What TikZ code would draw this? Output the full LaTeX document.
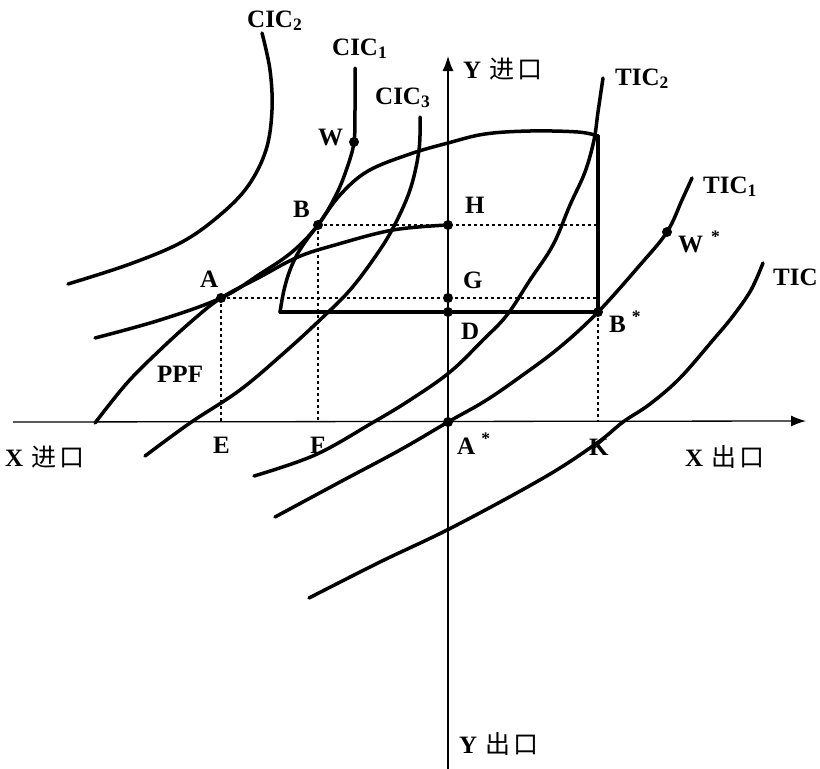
\documentclass[tikz,border=0pt]{standalone}
\usepackage{fontspec}
\setmainfont{Liberation Serif}
\newfontfamily\cjk{Noto Sans CJK SC}
\usetikzlibrary{arrows.meta}
\begin{document}
\begin{tikzpicture}[x=1pt,y=-1pt,
  curve/.style={line width=3.5pt,line cap=round,line join=round},
  axis/.style={line width=1.3pt,-{Latex[length=15pt,width=11pt]}},
  guide/.style={line width=1.1pt,dash pattern=on 3pt off 3pt},
  lbl/.style={anchor=base west,inner sep=0pt,font=\fontsize{25}{30}\selectfont\bfseries},
  cjklbl/.style={anchor=base west,inner sep=0pt,font=\fontsize{25}{30}\selectfont\bfseries},
  dotmark/.style={circle,fill,inner sep=0pt,minimum size=10pt}]
\useasboundingbox (0,0) rectangle (820,769);

% key points
\coordinate (A)  at (221,298);
\coordinate (B)  at (318,225);
\coordinate (W)  at (354,142);
\coordinate (H)  at (448,225);
\coordinate (G)  at (448,298);
\coordinate (D)  at (448,312);
\coordinate (As) at (448,422);
\coordinate (Bs) at (598,312);
\coordinate (Ws) at (667,232);
\coordinate (Bc) at (280,312);
\coordinate (Tp) at (598,136);
\coordinate (E)  at (221,422);
\coordinate (F)  at (318,422);
\coordinate (K)  at (598,422);
\coordinate (Xl) at (13,422);
\coordinate (Xr) at (806,421);
\coordinate (Yb) at (448,769);
\coordinate (Yt) at (448,56);

% axes
\draw[axis] (Xl) -- (Xr);
\draw[axis] (Yb) -- (Yt);

% guides
\draw[guide] (B) -- (B -| Bs);
\draw[guide] (B) -- (F);
\draw[guide] (A) -- (A -| Bs);
\draw[guide] (A) -- (E);
\draw[guide] (Bs) -- (K);

% community indifference curves
\draw[curve] plot[smooth,tension=0.6] coordinates {(262,33) (270,70) (272,110) (266,150) (248,186) (220,215) (182,242) (130,264) (68,284)};
\draw[curve] plot[smooth,tension=0.6] coordinates {(355,68) (355,110) (W) (347,168) (336,195) (B) (292,252) (260,274) (A) (160,320) (95,338)};
\draw[curve] plot[smooth,tension=0.6] coordinates {(420,117) (419,150) (410,190) (393,228) (375,257) (350,290) (322,318) (285,352) (240,390) (190,423) (145,456)};

% production possibility frontier
\draw[curve] plot[smooth,tension=0.6] coordinates {(95,423) (127,383) (160,350) (193,320) (A) (260,277) (298,257) (335,245) (393,230) (H)};

% shifted production block
\draw[curve] plot[smooth,tension=0.6] coordinates {(Bc) (284,290) (290,270) (298,253) (308,238) (B) (340,195) (368,171) (410,154) (448,143) (485,134) (530,131) (578,132) (Tp)};
\draw[curve] (Tp) -- (Bs) -- (Bc);

% trade indifference curves
\draw[curve] plot[smooth,tension=0.6] coordinates {(603,78) (598,112) (594,140) (585,172) (570,205) (553,245) (530,280) (507,315) (483,340) (450,372) (410,400) (372,423) (315,455) (254,476)};
\draw[curve] plot[smooth,tension=0.6] coordinates {(692,178) (682,200) (Ws) (640,265) (Bs) (560,347) (520,377) (485,401) (As) (400,450) (340,482) (275,517)};
\draw[curve] plot[smooth,tension=0.6] coordinates {(763,263) (751,290) (733,316) (713,340) (680,378) (650,404) (623,422) (597,443) (545,477) (453,527) (380,562) (309,598)};

% dots
\foreach \p in {A,B,W,H,G,D,As,Bs,Ws}
  \node[dotmark] (dot\p) at (\p) {};

% labels
\node[lbl] (lCIC2) at (247,27) {CIC\textsubscript{2}};
\node[lbl] (lCIC1) at (332,55) {CIC\textsubscript{1}};
\node[lbl] (lCIC3) at (375,104) {CIC\textsubscript{3}};
\node[lbl] (lTIC2) at (615,85) {TIC\textsubscript{2}};
\node[lbl] (lTIC1) at (703,193) {TIC\textsubscript{1}};
\node[lbl] (lTIC)  at (773,285) {TIC};
\node[lbl] (lW)  at (318,145) {W};
\node[lbl] (lB)  at (293,217) {B};
\node[lbl] (lA)  at (200,287) {A};
\node[lbl] (lH)  at (465,213) {H};
\node[lbl] (lG)  at (463,288) {G};
\node[lbl] (lD)  at (461,339) {D};
\node[lbl] (lBs) at (609,332) {B\hspace{6pt}\textsuperscript{*}};
\node[lbl] (lWs) at (678,252) {W\hspace{8pt}\textsuperscript{*}};
\node[lbl] (lPPF) at (157,382) {PPF};
\node[lbl] (lE)  at (213,453) {E};
\node[lbl] (lF)  at (310,453) {F};
\node[lbl] (lAs) at (457,454) {A\hspace{6pt}\textsuperscript{*}};
\node[lbl] (lK)  at (589,455) {K};
\node[cjklbl] (lYin)  at (463,78)  {Y\hspace{8pt}{\cjk\mdseries 进\hspace{3pt}口}};
\node[cjklbl] (lXin)  at (5,466)   {X\hspace{8pt}{\cjk\mdseries 进\hspace{3pt}口}};
\node[cjklbl] (lXout) at (685,466) {X\hspace{8pt}{\cjk\mdseries 出\hspace{3pt}口}};
\node[cjklbl] (lYout) at (459,753) {Y\hspace{8pt}{\cjk\mdseries 出\hspace{3pt}口}};
\end{tikzpicture}
\end{document}
